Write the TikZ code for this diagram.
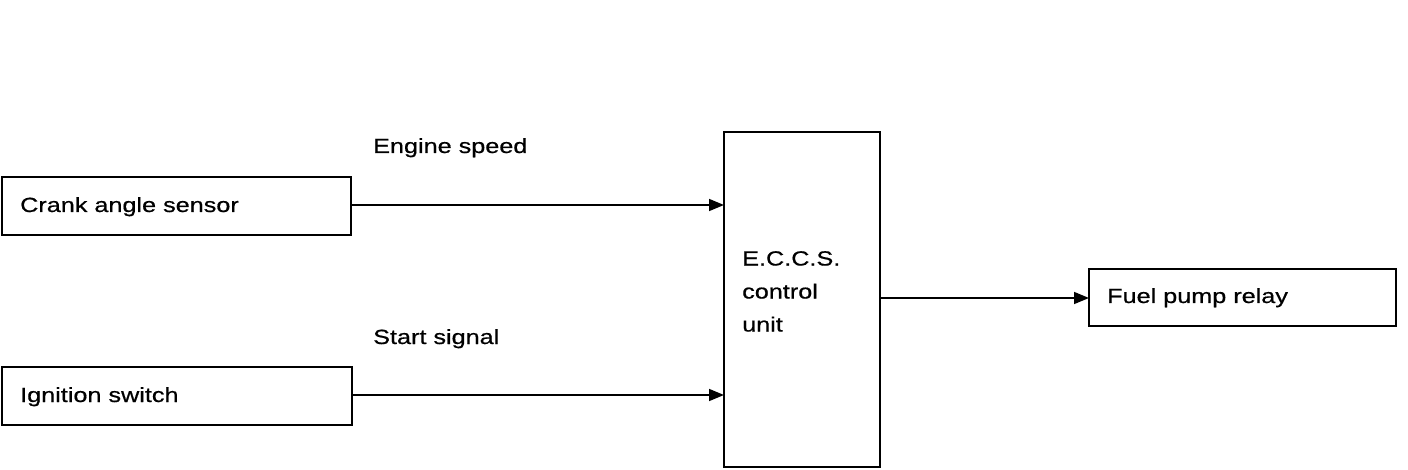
\documentclass[tikz,border=0pt]{standalone}
\usepackage{fontspec}
\setmainfont{Liberation Sans}[FakeStretch=1.23,FakeBold=0.6]
\usetikzlibrary{arrows.meta}
\begin{document}
\begin{tikzpicture}[x=1pt,y=-1pt,
  box/.style={draw,line width=1.8pt},
  lbl/.style={anchor=base west,inner sep=0pt,font=\fontsize{20.5}{33}\selectfont},
  conn/.style={line width=1.5pt,-{Triangle[length=15pt,width=12pt]}}]
\useasboundingbox (0,0) rectangle (1408,470);
\draw[box] (2,177) rectangle (351,235);
\draw[box] (2,367) rectangle (352,425);
\draw[box] (724,132) rectangle (880,467);
\draw[box] (1089,269) rectangle (1396,326);
\node[lbl] (t1) at (20,212) {Crank angle sensor};
\node[lbl] (t2) at (20,402) {Ignition switch};
\node[lbl] (t3) at (1107,303) {Fuel pump relay};
\node[lbl] (t4) at (373,153) {Engine speed};
\node[lbl] (t5) at (373,344) {Start signal};
\node[lbl,align=left,anchor=north west] (t6) at (742,251) {E.C.C.S.\\control\\unit};
\coordinate (a1) at (351,205); \coordinate (b1) at (724,205);
\coordinate (a2) at (352,395); \coordinate (b2) at (724,395);
\coordinate (a3) at (880,298); \coordinate (b3) at (1089,298);
\draw[conn] (a1) -- (b1);
\draw[conn] (a2) -- (b2);
\draw[conn] (a3) -- (b3);
\end{tikzpicture}
\end{document}
